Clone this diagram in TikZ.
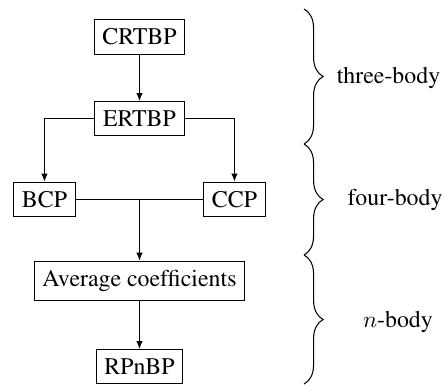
\documentclass[tikz,border=0pt]{standalone}
\usepackage[T1]{fontenc}
\renewcommand{\rmdefault}{ptm}
\usetikzlibrary{arrows.meta,decorations.pathreplacing}
\tikzset{
  box/.style={draw, line width=0.45pt, inner xsep=3.5pt, inner ysep=3.9pt, font=\fontsize{10.2}{12}\selectfont},
  conn/.style={line width=0.45pt},
  arr/.style={conn, -{Latex[length=3.4pt,width=2.7pt]}},
  bracestyle/.style={line width=0.45pt, decorate, decoration={brace, amplitude=8.2pt}},
  lbl/.style={font=\fontsize{10.2}{12}\selectfont, inner sep=0pt}
}
\begin{document}
\begin{tikzpicture}[x=0.4274pt,y=-0.4274pt]
\useasboundingbox (0,0) rectangle (444,387);
\node[box] (crtbp) at (139.5,37) {CRTBP};
\node[box] (ertbp) at (139.5,118.5) {ERTBP};
\node[box] (bcp) at (44.5,199.5) {BCP};
\node[box] (ccp) at (234.5,199.5) {CCP};
\node[box] (avg) at (139.5,281) {Average coefficients};
\node[box] (rpnbp) at (139.5,366.5) {RPnBP};
\coordinate (j) at (139.5,199.5);
\draw[arr] (crtbp) -- (ertbp);
\draw[arr] (ertbp.west) -| (bcp.north);
\draw[arr] (ertbp.east) -| (ccp.north);
\draw[conn] (bcp.east) -- (ccp.west);
\draw[arr] (j) -- (avg.north);
\draw[arr] (avg) -- (rpnbp);
\coordinate (b0) at (304,9);
\coordinate (b1) at (304,144);
\coordinate (b2) at (304,255);
\coordinate (b3) at (304,384);
\draw[bracestyle] (b0) -- (b1);
\draw[bracestyle] (b1) -- (b2);
\draw[bracestyle] (b2) -- (b3);
\node[lbl] (t3) at (388.5,78) {three-body};
\node[lbl] (t4) at (395,200) {four-body};
\node[lbl] (tn) at (398,322) {$n$-body};
\end{tikzpicture}
\end{document}
